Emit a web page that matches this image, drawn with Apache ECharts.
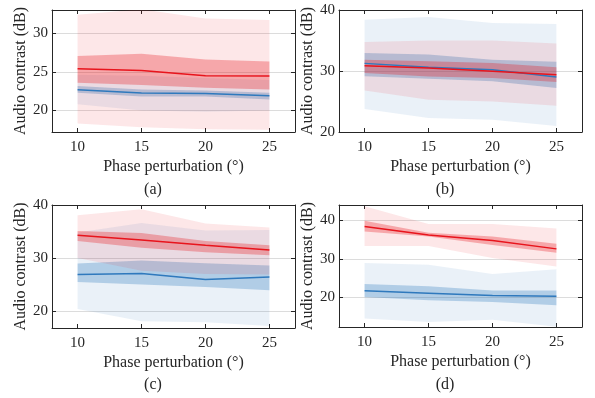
<!DOCTYPE html>
<html>
<head>
<meta charset="utf-8">
<script src="https://cdn.jsdelivr.net/npm/echarts@6/dist/echarts.min.js"></script>
<style>
  html, body { margin: 0; padding: 0; background: #fff; }
  #chart { width: 595px; height: 398px; }
</style>
</head>
<body>
<div id="chart"></div>
<script>
// x positions (phase perturbation, degrees)
const phase = [10, 15, 20, 25];
const xTicks = [10, 15, 20, 25];

// panel (a)
const aRedMean = [25.39, 25.17, 24.48, 24.44];
const aRedDarkLow = [23.58, 23.28, 22.93, 22.72];
const aRedDarkHigh = [27.03, 27.33, 26.6, 26.34];
const aRedLightLow = [18.3, 17.8, 17.55, 17.5];
const aRedLightHigh = [32.4, 33.1, 31.9, 31.72];
const aBlueMean = [22.67, 22.24, 22.2, 21.9];
const aBlueDarkLow = [22.28, 21.81, 21.81, 21.42];
const aBlueDarkHigh = [23.15, 22.72, 22.59, 22.28];
const aBlueLightLow = [20.78, 20.0, 19.83, 20.0];
const aBlueLightHigh = [24.6, 24.5, 24.2, 23.95];
const aYTicks = [20, 25, 30];

// panel (b)
const bRedMean = [30.87, 30.5, 29.95, 29.4];
const bRedDarkLow = [29.67, 29.1, 28.85, 28.2];
const bRedDarkHigh = [31.85, 31.6, 31.3, 30.6];
const bRedLightLow = [26.8, 25.3, 25.0, 24.3];
const bRedLightHigh = [34.75, 35.0, 35.0, 34.5];
const bBlueMean = [31.25, 30.6, 30.2, 29.0];
const bBlueDarkLow = [29.13, 28.74, 28.3, 27.2];
const bBlueDarkHigh = [32.95, 32.7, 31.85, 31.5];
const bBlueLightLow = [23.77, 22.3, 22.0, 21.0];
const bBlueLightHigh = [38.4, 38.85, 37.87, 37.7];
const bYTicks = [20, 30, 40];

// panel (c)
const cRedMean = [34.3, 33.4, 32.4, 31.5];
const cRedDarkLow = [33.2, 31.95, 31.1, 30.5];
const cRedDarkHigh = [35.1, 34.7, 33.2, 32.4];
const cRedLightLow = [30.0, 27.6, 27.0, 26.9];
const cRedLightHigh = [38.08, 39.2, 36.5, 35.75];
const cBlueMean = [26.9, 27.1, 25.95, 26.4];
const cBlueDarkLow = [25.5, 25.0, 24.55, 23.9];
const cBlueDarkHigh = [28.98, 29.55, 29.0, 28.6];
const cBlueLightLow = [20.4, 18.05, 17.9, 17.2];
const cBlueLightHigh = [34.8, 36.6, 35.2, 35.3];
const cYTicks = [20, 30, 40];

// panel (d)
const dRedMean = [38.4, 36.2, 34.75, 32.6];
const dRedDarkLow = [37.1, 35.8, 33.6, 31.6];
const dRedDarkHigh = [39.9, 36.8, 35.8, 33.9];
const dRedLightLow = [33.36, 33.36, 30.2, 28.0];
const dRedLightHigh = [43.7, 39.05, 39.05, 37.9];
const dBlueMean = [21.7, 21.1, 20.5, 20.3];
const dBlueDarkLow = [20.1, 19.25, 18.8, 17.95];
const dBlueDarkHigh = [23.5, 22.9, 21.8, 21.8];
const dBlueLightLow = [14.5, 13.6, 14.2, 12.35];
const dBlueLightHigh = [28.9, 28.5, 26.1, 27.3];
const dYTicks = [20, 30, 40];

const RED = '#e8141c';
const BLUE = '#2f79bd';
const AXIS = '#262626';
const FONT = '"Liberation Serif", "Times New Roman", serif';

const panels = [
  { left: 52, top: 10, height: 122, yMin: 17.2, yMax: 33, yTicks: aYTicks,
    red: [aRedMean, aRedDarkLow, aRedDarkHigh, aRedLightLow, aRedLightHigh],
    blue: [aBlueMean, aBlueDarkLow, aBlueDarkHigh, aBlueLightLow, aBlueLightHigh] },
  { left: 339, top: 10, height: 122, yMin: 20, yMax: 40, yTicks: bYTicks,
    red: [bRedMean, bRedDarkLow, bRedDarkHigh, bRedLightLow, bRedLightHigh],
    blue: [bBlueMean, bBlueDarkLow, bBlueDarkHigh, bBlueLightLow, bBlueLightHigh] },
  { left: 52, top: 205, height: 123, yMin: 16.8, yMax: 40, yTicks: cYTicks,
    red: [cRedMean, cRedDarkLow, cRedDarkHigh, cRedLightLow, cRedLightHigh],
    blue: [cBlueMean, cBlueDarkLow, cBlueDarkHigh, cBlueLightLow, cBlueLightHigh] },
  { left: 339, top: 205, height: 122, yMin: 12.3, yMax: 44, yTicks: dYTicks,
    red: [dRedMean, dRedDarkLow, dRedDarkHigh, dRedLightLow, dRedLightHigh],
    blue: [dBlueMean, dBlueDarkLow, dBlueDarkHigh, dBlueLightLow, dBlueLightHigh] },
];

const grids = [], xAxes = [], yAxes = [], series = [];

// shaded band between low and high, drawn as one polygon through the axis scales
function band(gi, low, high, color, alpha) {
  series.push({
    type: 'custom', xAxisIndex: gi * 2, yAxisIndex: gi * 2,
    clip: true, silent: true,
    data: phase.map((x, i) => [x, low[i], high[i]]),
    renderItem: function (params, api) {
      if (params.dataIndex !== 0) return null;
      const pts = [];
      phase.forEach((x, i) => pts.push(api.coord([x, high[i]])));
      for (let i = phase.length - 1; i >= 0; i--) pts.push(api.coord([phase[i], low[i]]));
      return {
        type: 'polygon',
        shape: { points: pts },
        style: { fill: color, opacity: alpha }
      };
    }
  });
}

function meanLine(gi, values, color, z) {
  series.push({
    type: 'line', xAxisIndex: gi * 2, yAxisIndex: gi * 2,
    data: phase.map((x, i) => [x, values[i]]),
    symbol: 'none', silent: true, z: z,
    lineStyle: { color: color, width: 1.5 }
  });
}

panels.forEach((p, gi) => {
  grids.push({ left: p.left, top: p.top, width: 243, height: p.height });
  const tickStyle = { inside: true, length: 4, lineStyle: { color: AXIS, width: 1 } };
  xAxes.push({
    gridIndex: gi, type: 'value', min: 8, max: 27, position: 'bottom',
    axisLine: { show: true, onZero: false, lineStyle: { color: AXIS, width: 1 } },
    axisTick: Object.assign({ customValues: xTicks }, tickStyle),
    axisLabel: { customValues: xTicks, fontFamily: FONT, fontSize: 15, color: AXIS, margin: 8 },
    splitLine: { show: false },
    name: 'Phase perturbation (°)', nameLocation: 'middle', nameGap: 27,
    nameTextStyle: { fontFamily: FONT, fontSize: 16, color: AXIS }
  });
  xAxes.push({
    gridIndex: gi, type: 'value', min: 8, max: 27, position: 'top',
    axisLine: { show: true, onZero: false, lineStyle: { color: AXIS, width: 1 } },
    axisTick: Object.assign({ customValues: xTicks }, tickStyle),
    axisLabel: { show: false }, splitLine: { show: false }
  });
  yAxes.push({
    gridIndex: gi, type: 'value', min: p.yMin, max: p.yMax, position: 'left',
    axisLine: { show: true, onZero: false, lineStyle: { color: AXIS, width: 1 } },
    axisTick: Object.assign({ customValues: p.yTicks }, tickStyle),
    axisLabel: { customValues: p.yTicks, fontFamily: FONT, fontSize: 15, color: AXIS, margin: 4 },
    splitLine: { show: true, lineStyle: { color: '#dcdcdc', width: 1 } },
    name: 'Audio contrast (dB)', nameLocation: 'middle', nameGap: 22,
    nameTextStyle: { fontFamily: FONT, fontSize: 16, color: AXIS }
  });
  yAxes.push({
    gridIndex: gi, type: 'value', min: p.yMin, max: p.yMax, position: 'right',
    axisLine: { show: true, onZero: false, lineStyle: { color: AXIS, width: 1 } },
    axisTick: Object.assign({ customValues: p.yTicks }, tickStyle),
    axisLabel: { show: false }, splitLine: { show: false }
  });

  band(gi, p.blue[3], p.blue[4], BLUE, 0.1);
  band(gi, p.blue[1], p.blue[2], BLUE, 0.3);
  band(gi, p.red[3], p.red[4], RED, 0.1);
  band(gi, p.red[1], p.red[2], RED, 0.3);
  meanLine(gi, p.blue[0], BLUE, 5);
  meanLine(gi, p.red[0], RED, 6);
});

const captions = [
  { x: 153, y: 190, t: '(a)' },
  { x: 445, y: 190, t: '(b)' },
  { x: 153, y: 385, t: '(c)' },
  { x: 445, y: 385, t: '(d)' },
];

const chart = echarts.init(document.getElementById('chart'), null, { renderer: 'canvas' });
chart.setOption({
  animation: false,
  grid: grids,
  xAxis: xAxes,
  yAxis: yAxes,
  series: series,
  graphic: captions.map(c => ({
    type: 'text', x: c.x, y: c.y,
    style: { text: c.t, font: '16px ' + FONT, fill: AXIS, align: 'center', verticalAlign: 'middle' }
  }))
});
</script>
</body>
</html>
